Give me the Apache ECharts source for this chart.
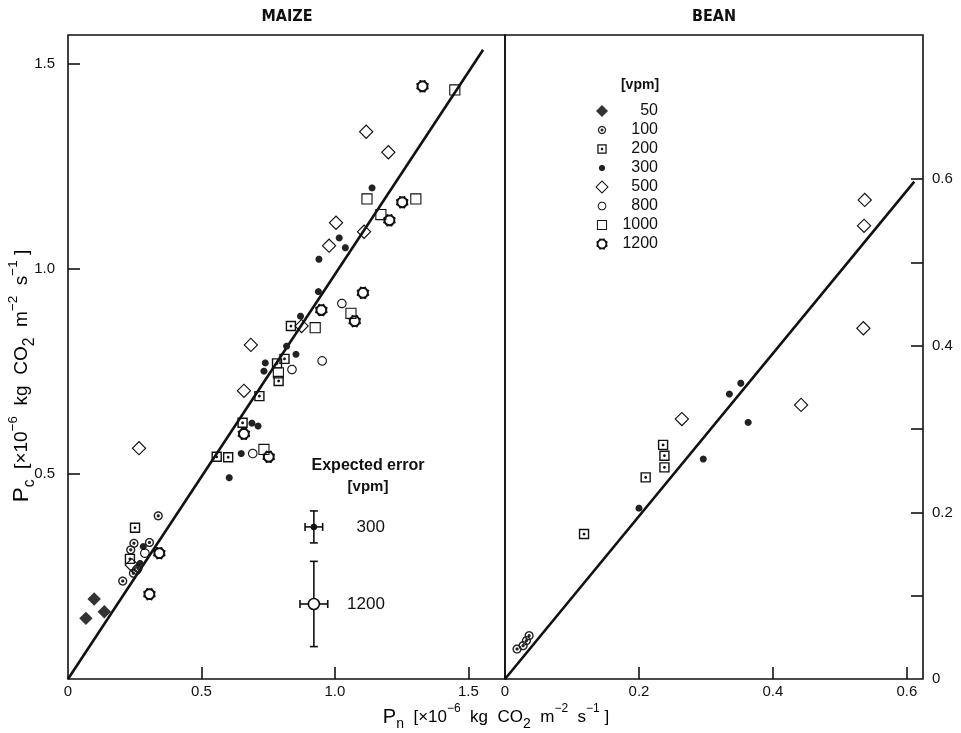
<!DOCTYPE html>
<html>
<head>
<meta charset="utf-8">
<script src="https://cdn.jsdelivr.net/npm/echarts@6/dist/echarts.min.js"></script>
<style>
html, body { margin: 0; padding: 0; background: #fff; }
#chart { width: 961px; height: 733px; }
</style>
</head>
<body>
<div id="chart"></div>
<script>
// CO2 levels [vpm]
var levels = ['50', '100', '200', '300', '500', '800', '1000', '1200'];

// MAIZE  [Pn, Pc]
var maize50 = [[0.067, 0.148], [0.098, 0.195], [0.136, 0.164]];
var maize100 = [[0.338, 0.398], [0.247, 0.331], [0.305, 0.333], [0.235, 0.315], [0.245, 0.258], [0.205, 0.239], [0.262, 0.270]];
var maize200 = [[0.251, 0.369], [0.232, 0.293], [0.557, 0.542], [0.600, 0.541], [0.654, 0.625], [0.717, 0.690], [0.783, 0.770], [0.811, 0.781], [0.789, 0.727], [0.835, 0.861]];
var maize300 = [[0.282, 0.323], [0.270, 0.282], [0.604, 0.491], [0.649, 0.550], [0.689, 0.624], [0.712, 0.617], [0.734, 0.751], [0.739, 0.771], [0.819, 0.812], [0.854, 0.792], [0.871, 0.885], [0.938, 0.945], [0.940, 1.024], [1.016, 1.076], [1.039, 1.052], [1.139, 1.198]];
var maize500 = [[0.266, 0.563], [0.659, 0.703], [0.685, 0.815], [0.875, 0.861], [0.978, 1.057], [1.004, 1.113], [1.109, 1.091], [1.117, 1.335], [1.200, 1.285], [0.239, 0.278]];
var maize800 = [[0.288, 0.307], [0.257, 0.266], [0.692, 0.550], [0.839, 0.755], [0.952, 0.776], [1.026, 0.916]];
var maize1000 = [[1.449, 1.437], [1.120, 1.171], [1.303, 1.171], [1.172, 1.133], [1.060, 0.892], [0.926, 0.857], [0.788, 0.747], [0.734, 0.560]];
var maize1200 = [[1.328, 1.446], [1.252, 1.163], [1.204, 1.119], [1.105, 0.942], [0.949, 0.900], [1.074, 0.873], [0.659, 0.598], [0.752, 0.542], [0.342, 0.307], [0.305, 0.207]];
var maizeFit = [[0, 0], [1.555, 1.535]];

// BEAN  [Pn, Pc]
var bean100 = [[0.018, 0.036], [0.027, 0.040], [0.032, 0.046], [0.036, 0.052]];
var bean200 = [[0.118, 0.174], [0.210, 0.242], [0.236, 0.281], [0.238, 0.268], [0.238, 0.254]];
var bean300 = [[0.200, 0.205], [0.296, 0.264], [0.335, 0.342], [0.352, 0.355], [0.363, 0.308]];
var bean500 = [[0.264, 0.312], [0.442, 0.329], [0.537, 0.575], [0.536, 0.544], [0.535, 0.421]];
var beanFit = [[0, 0], [0.611, 0.597]];

// expected error bars (maize panel)
var errLabels = ['300', '1200'];
var errX = [0.921, 0.921];
var errY = [0.371, 0.183];
var errDx = [0.033, 0.052];
var errDy = [0.039, 0.104];

var FONT = "'Liberation Sans', Arial, sans-serif";
var NARROW = "'Liberation Sans Narrow', 'DejaVu Sans Condensed', sans-serif";

// symbol paths, all in the same -10..10 box so sizes stay relative
function ptsPath(pts) {
  return 'M' + pts.map(function (p) { return p[0].toFixed(2) + ',' + p[1].toFixed(2); }).join('L') + 'Z';
}
function circ(r, ccw, cx, cy) {
  var pts = [];
  for (var i = 0; i < 28; i++) {
    var a = (ccw ? -1 : 1) * i * Math.PI * 2 / 28;
    pts.push([(cx || 0) + r * Math.cos(a), (cy || 0) + r * Math.sin(a)]);
  }
  return ptsPath(pts);
}
function sq(h, ccw, cx, cy) {
  cx = cx || 0; cy = cy || 0;
  var pts = [[cx - h, cy - h], [cx + h, cy - h], [cx + h, cy + h], [cx - h, cy + h]];
  if (ccw) pts.reverse();
  return ptsPath(pts);
}
function dia(h, ccw) {
  var pts = [[0, -h], [h, 0], [0, h], [-h, 0]];
  if (ccw) pts.reverse();
  return ptsPath(pts);
}
var pad = 'M-10,-10L-10,-10M10,10L10,10';
var bumps = '';
for (var k = 0; k < 8; k++) {
  var a = k * Math.PI / 4 + Math.PI / 8;
  bumps += circ(1.1, false, 5.6 * Math.cos(a), 5.6 * Math.sin(a));
}
var symbols = {
  '50': 'path://' + pad + dia(6.7, false),
  '100': 'path://' + pad + circ(4.6, false) + circ(3.2, true) + circ(1.6, false),
  '200': 'path://' + pad + sq(5.2, false) + sq(3.8, true) + circ(1.4, false),
  '300': 'path://' + pad + circ(3.5, false),
  '500': 'path://' + pad + dia(7.4, false) + dia(5.8, true),
  '800': 'path://' + pad + circ(4.8, false) + circ(3.7, true),
  '1000': 'path://' + pad + sq(5.6, false) + sq(4.5, true),
  '1200': 'path://' + pad + circ(5.9, false) + circ(3.9, true) + bumps
};
var colors = { '50': '#333', '100': '#222', '200': '#111', '300': '#222', '500': '#111', '800': '#111', '1000': '#111', '1200': '#111' };

var maizeData = { '50': maize50, '100': maize100, '200': maize200, '300': maize300, '500': maize500, '800': maize800, '1000': maize1000, '1200': maize1200 };
var beanData = { '100': bean100, '200': bean200, '300': bean300, '500': bean500 };

function scatter(name, data, g) {
  return {
    type: 'scatter', name: name, data: data,
    xAxisIndex: g, yAxisIndex: g,
    symbol: symbols[name], symbolSize: 20,
    itemStyle: { color: colors[name], opacity: 1 },
    z: 3, silent: true
  };
}

var series = [];
series.push({ type: 'line', data: maizeFit, xAxisIndex: 0, yAxisIndex: 0, symbol: 'none', lineStyle: { color: '#111', width: 2.6 }, z: 2, silent: true });
series.push({ type: 'line', data: beanFit, xAxisIndex: 1, yAxisIndex: 1, symbol: 'none', lineStyle: { color: '#111', width: 2.6 }, z: 2, silent: true });
levels.forEach(function (n) {
  series.push(scatter(n, maizeData[n], 0));
  if (beanData[n]) series.push(scatter(n, beanData[n], 1));
});

series.push({
  type: 'custom', xAxisIndex: 0, yAxisIndex: 0, silent: true, z: 4,
  data: errX.map(function (x, i) { return [x, errY[i], errDx[i], errDy[i]]; }),
  renderItem: function (params, api) {
    var i = params.dataIndex;
    var x = api.value(0), y = api.value(1), dx = api.value(2), dy = api.value(3);
    var c = api.coord([x, y]);
    var l = api.coord([x - dx, y]), r = api.coord([x + dx, y]);
    var t = api.coord([x, y + dy]), b = api.coord([x, y - dy]);
    var cap = 4;
    var st = { stroke: '#111', lineWidth: 1.6 };
    function seg(x1, y1, x2, y2) { return { type: 'line', shape: { x1: x1, y1: y1, x2: x2, y2: y2 }, style: st }; }
    var kids = [
      seg(t[0], t[1], b[0], b[1]), seg(l[0], l[1], r[0], r[1]),
      seg(t[0] - cap, t[1], t[0] + cap, t[1]), seg(b[0] - cap, b[1], b[0] + cap, b[1]),
      seg(l[0], l[1] - cap, l[0], l[1] + cap), seg(r[0], r[1] - cap, r[0], r[1] + cap)
    ];
    if (i === 0) {
      kids.push({ type: 'circle', shape: { cx: c[0], cy: c[1], r: 3.2 }, style: { fill: '#111' } });
    } else {
      kids.push({ type: 'circle', shape: { cx: c[0], cy: c[1], r: 5.5 }, style: { fill: '#fff', stroke: '#111', lineWidth: 1.6 } });
    }
    kids.push({ type: 'text', x: c[0] + 71, y: c[1], style: { text: errLabels[i], align: 'right', verticalAlign: 'middle', fontSize: 17, fontFamily: FONT, fill: '#111' } });
    return { type: 'group', children: kids };
  }
});

function fmt(v) { return v === 0 ? '0' : v.toFixed(1); }
var labelStyle = { color: '#111', fontSize: 15, fontFamily: FONT, formatter: fmt };

function axis(g, min, max, interval, ticks, labels, margin, extra) {
  var a = {
    type: 'value', gridIndex: g, min: min, max: max, interval: interval,
    axisLine: { show: false, onZero: false },
    splitLine: { show: false },
    axisTick: { show: true, inside: true, length: 12, lineStyle: { color: '#111', width: 1.6 }, customValues: ticks },
    axisLabel: Object.assign({ customValues: labels, margin: margin }, labelStyle)
  };
  return Object.assign(a, extra || {});
}

function unitRich(scale) {
  return {
    p: { fontSize: 20 * scale, fontFamily: FONT, color: '#111', lineHeight: 28 * scale },
    s: { fontSize: 14 * scale, fontFamily: FONT, color: '#111', verticalAlign: 'bottom', lineHeight: 14 * scale },
    t: { fontSize: 17 * scale, fontFamily: FONT, color: '#111', lineHeight: 28 * scale },
    u: { fontSize: 12 * scale, fontFamily: FONT, color: '#111', verticalAlign: 'top', lineHeight: 14 * scale }
  };
}
function unitText(sub, gap) {
  return '{p|P}{s|' + sub + '}{t|' + gap + '[×10}{u|−6}{t|' + gap + 'kg' + gap + 'CO}{s|2}{t|' + gap + 'm}{u|−2}{t|' + gap + 's}{u|−1}{t| ]}';
}

var chart = echarts.init(document.getElementById('chart'));
chart.setOption({
  backgroundColor: '#fff',
  animation: false,
  grid: [
    { left: 68, top: 35, width: 437, height: 644, show: true, borderColor: '#111', borderWidth: 1.6, backgroundColor: 'transparent' },
    { left: 505, top: 35, width: 418, height: 644, show: true, borderColor: '#111', borderWidth: 1.6, backgroundColor: 'transparent' }
  ],
  xAxis: [
    axis(0, 0, 1.637, 0.5, [0.5, 1, 1.5], [0, 0.5, 1, 1.5], 5),
    axis(1, 0, 0.624, 0.2, [0.2, 0.4, 0.6], [0, 0.2, 0.4, 0.6], 5)
  ],
  yAxis: [
    axis(0, 0, 1.571, 0.5, [0.5, 1, 1.5], [0.5, 1, 1.5], 13),
    axis(1, 0, 0.773, 0.1, [0.1, 0.2, 0.3, 0.4, 0.5, 0.6], [0, 0.2, 0.4, 0.6], 9, { position: 'right' })
  ],
  legend: {
    orient: 'vertical', left: 593, top: 102, padding: 0,
    itemWidth: 18, itemHeight: 18, itemGap: 1,
    selectedMode: false,
    data: levels.map(function (n) { return { name: n, icon: symbols[n] }; }),
    formatter: function (n) { return '{n|' + n + '}'; },
    textStyle: { rich: { n: { width: 42, align: 'right', fontSize: 16, fontFamily: FONT, color: '#111', lineHeight: 18 } } }
  },
  graphic: [
    { type: 'text', x: 287, y: 17, style: { text: 'MAIZE', align: 'center', verticalAlign: 'middle', fontSize: 16, fontWeight: 'bold', fontFamily: NARROW, fill: '#111' } },
    { type: 'text', x: 714, y: 17, style: { text: 'BEAN', align: 'center', verticalAlign: 'middle', fontSize: 16, fontWeight: 'bold', fontFamily: NARROW, fill: '#111' } },
    { type: 'text', x: 640, y: 85, style: { text: '[vpm]', align: 'center', verticalAlign: 'middle', fontSize: 14, fontWeight: 'bold', fontFamily: FONT, fill: '#111' } },
    { type: 'text', x: 368, y: 466, style: { text: 'Expected error', align: 'center', verticalAlign: 'middle', fontSize: 16, fontWeight: 'bold', fontFamily: FONT, fill: '#111' } },
    { type: 'text', x: 368, y: 487, style: { text: '[vpm]', align: 'center', verticalAlign: 'middle', fontSize: 15, fontWeight: 'bold', fontFamily: FONT, fill: '#111' } },
    { type: 'text', x: 496, y: 717, style: { text: unitText('n', '  '), rich: unitRich(1), align: 'center', verticalAlign: 'middle' } },
    { type: 'text', x: 22, y: 376, rotation: Math.PI / 2, style: { text: unitText('c', '  '), rich: unitRich(1.12), align: 'center', verticalAlign: 'middle' } }
  ],
  series: series
});
</script>
</body>
</html>
